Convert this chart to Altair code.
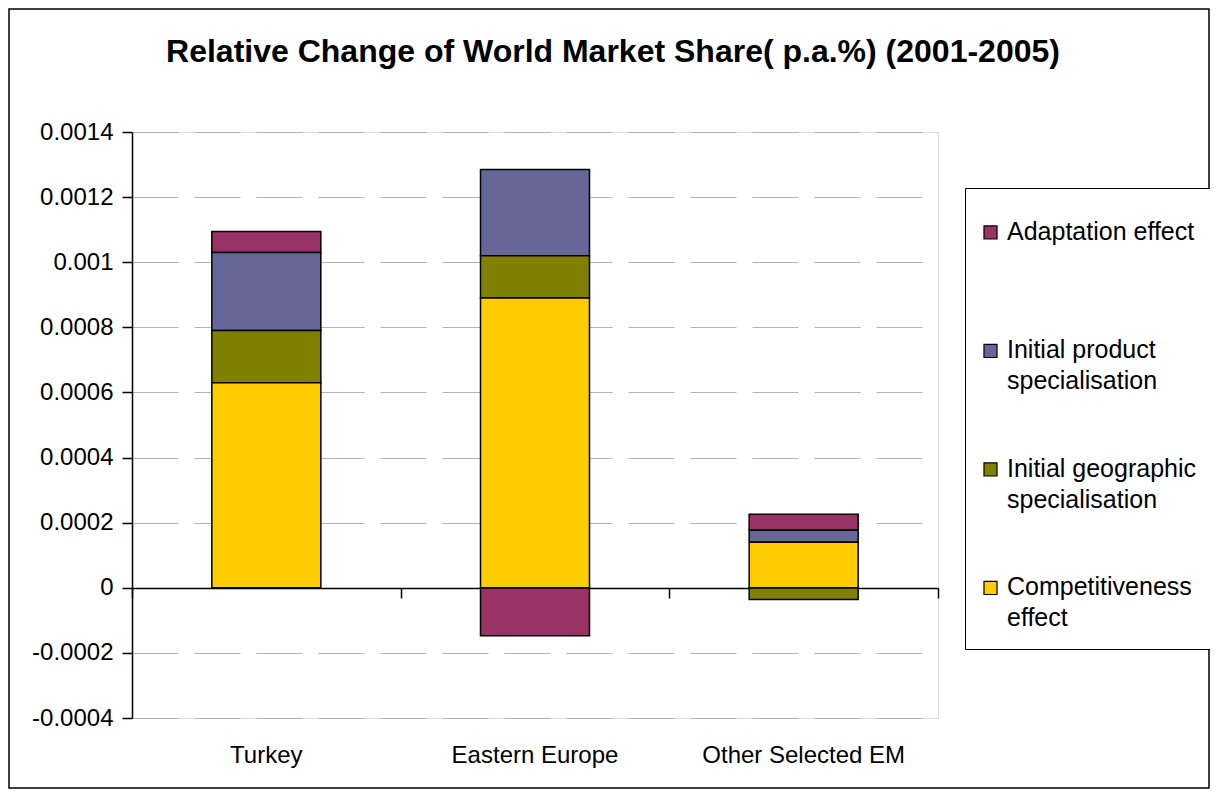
import altair as alt
import pandas as pd

regions = ["Turkey", "Eastern Europe", "Other Selected EM"]
series = ["Adaptation effect", "Initial product specialisation",
          "Initial geographic specialisation", "Competitiveness effect"]
colors = ["#993366", "#666699", "#808000", "#FFCC00"]
stack_rank = [4, 3, 2, 1]

adaptation = [0.000064, -0.000147, 0.000049]
product = [0.00024, 0.000265, 0.000037]
geographic = [0.00016, 0.00013, -0.000036]
competitiveness = [0.00063, 0.00089, 0.00014]

y_ticks = [-0.0004, -0.0002, 0, 0.0002, 0.0004, 0.0006, 0.0008, 0.001, 0.0012, 0.0014]

rows = []
for s, vals, rk in zip(series, [adaptation, product, geographic, competitiveness], stack_rank):
    for r, v in zip(regions, vals):
        rows.append({"Region": r, "Series": s, "Value": v, "Rank": rk})
df = pd.DataFrame(rows)

W, H = 806, 586
PL, PT, PR, PB = 124, 124, 272, 71

xscale = alt.Scale(paddingInner=0, paddingOuter=0)

bars = alt.Chart(df).mark_bar(size=109, stroke="black", strokeWidth=1.5).encode(
    x=alt.X("Region:N", sort=regions, scale=xscale,
            axis=alt.Axis(title=None, labelAngle=0, domain=False, ticks=False,
                          labelFontSize=24, labelPadding=25, labelColor="black",
                          labelLimit=400,
                          labelFont="Liberation Sans", orient="bottom")),
    y=alt.Y("Value:Q", stack="zero",
            scale=alt.Scale(domain=[-0.0004, 0.0014], nice=False, zero=False),
            axis=alt.Axis(title=None, values=y_ticks, labelExpr="'' + datum.value",
                          labelFontSize=24, labelColor="black", labelFont="Liberation Sans",
                          labelPadding=9, tickSize=10, tickColor="black", domainColor="black",
                          domainWidth=1.5, tickWidth=1.5,
                          grid=True, gridColor="#b4b4b4", gridDash=[46, 16], gridWidth=1.2)),
    color=alt.Color("Series:N", sort=series,
                    scale=alt.Scale(domain=series, range=colors),
                    legend=alt.Legend(title=" ", titleFontSize=1, titlePadding=20,
                                      orient="none", legendX=833, legendY=56,
                                      strokeColor="black", fillColor="white", padding=18,
                                      symbolType="M-1,-2.08H1V-0.08H-1Z", symbolSize=170,
                                      symbolOffset=-5,
                                      symbolStrokeColor="black", symbolStrokeWidth=1.2,
                                      labelFontSize=25, labelFont="Liberation Sans",
                                      labelColor="black", labelLimit=400, labelOffset=4,
                                      labelBaseline="alphabetic",
                                      labelExpr="datum.label == 'Adaptation effect' ? ['Adaptation effect', ''] : datum.label == 'Initial product specialisation' ? ['Initial product', 'specialisation'] : datum.label == 'Initial geographic specialisation' ? ['Initial geographic', 'specialisation'] : ['Competitiveness', 'effect']",
                                      rowPadding=61.5)),
    order=alt.Order("Rank:Q", sort="ascending"),
)

zero_axis = alt.Chart(df).mark_bar(opacity=0).encode(
    x=alt.X("Region:N", sort=regions, scale=xscale,
            axis=alt.Axis(title=None, labels=False, domain=True, domainColor="black",
                          domainWidth=1.5, ticks=True, tickBand="extent", tickSize=10,
                          tickColor="black", tickWidth=1.5, orient="bottom", offset=-130)),
    y=alt.Y("Value:Q", stack="zero"),
)

border = alt.Chart(pd.DataFrame({"k": [0]})).mark_rect(
    fill=None, stroke="black", strokeWidth=1.5
).encode(
    x=alt.value(-PL + 1), x2=alt.value(W + PR - 1),
    y=alt.value(-PT + 1), y2=alt.value(H + PB - 1),
)

chart = alt.layer(bars, zero_axis, border).resolve_axis(x="independent").properties(
    width=W, height=H,
    autosize=alt.AutoSizeParams(type="none"),
    padding={"left": PL, "top": PT, "right": PR, "bottom": PB},
    title=alt.TitleParams("Relative Change of World Market Share( p.a.%) (2001-2005)",
                          fontSize=32, fontWeight="bold", font="Liberation Sans",
                          anchor="middle", frame="group", dx=78, offset=-61, color="black"),
).configure_view(stroke="#a0a0a0", strokeWidth=1.2).configure(
    background="white", style={"guide-label": {"lineHeight": 31}})

chart.save("out.html", embed_options={"renderer": "svg", "actions": False})
